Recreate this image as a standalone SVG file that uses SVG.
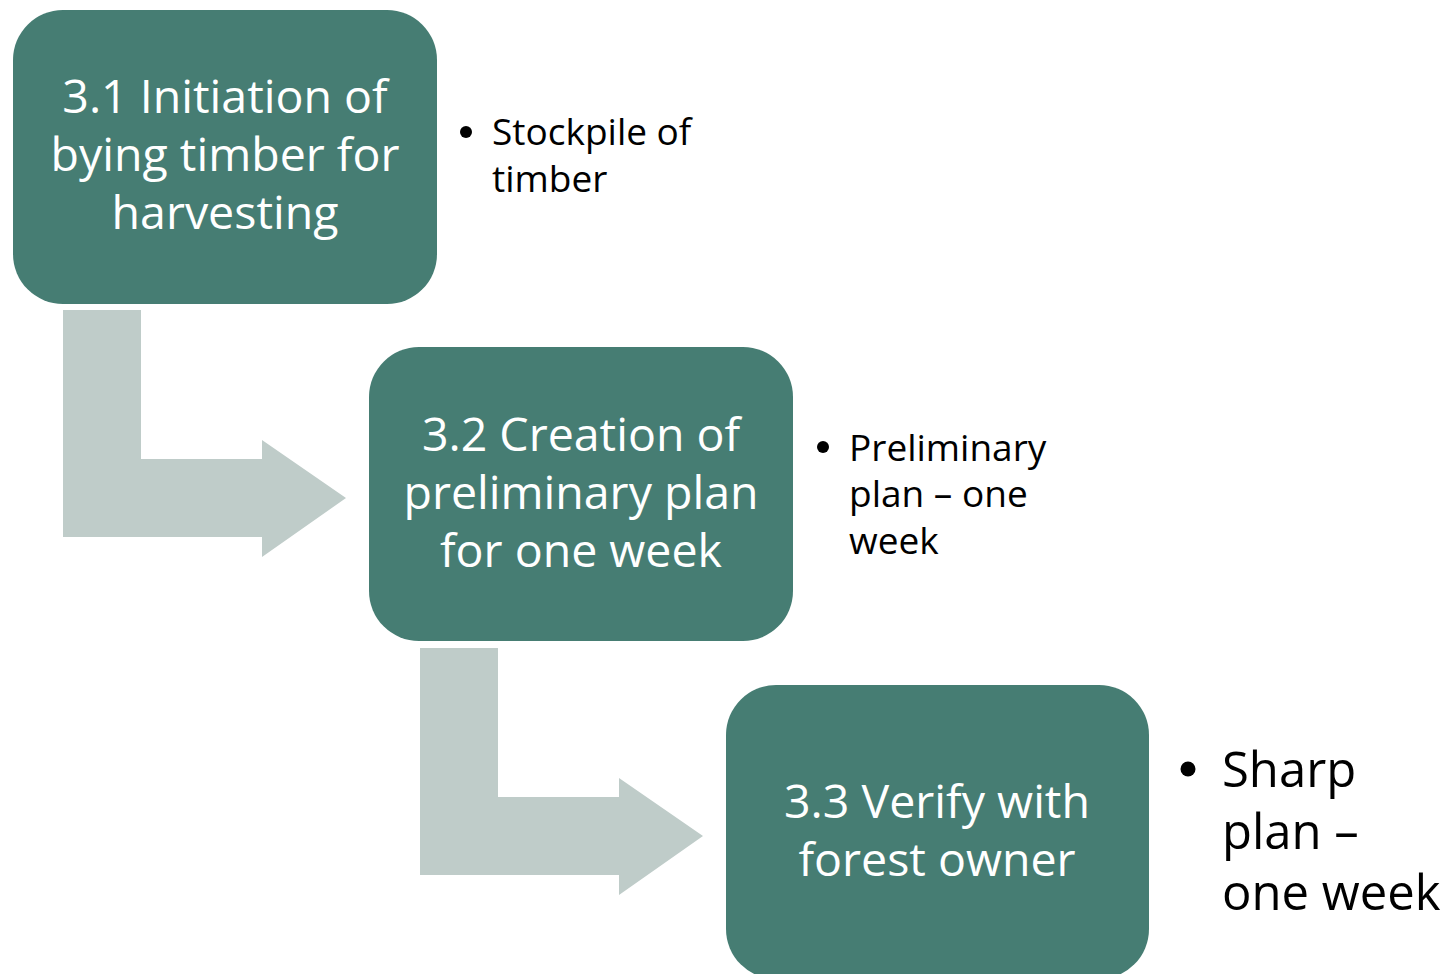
<svg xmlns="http://www.w3.org/2000/svg" width="1455" height="974" viewBox="0 0 1455 974">
<style>
.box{fill:#467D73}
.arrow{fill:#BFCCC9}
.bt{font-family:"Open Sans","Noto Sans",sans-serif;font-size:46.5px;fill:#FFFFFF;text-anchor:middle}
.st{font-family:"Open Sans","Noto Sans",sans-serif;font-size:37px;fill:#000000}
.lt{font-family:"Open Sans","Noto Sans",sans-serif;font-size:49px;fill:#000000}
</style>
<rect width="1455" height="974" fill="#FFFFFF"/>
<g id="connectors">
<path class="arrow" d="M63,310 H141 V459 H262 V440 L346,498 L262,557 V537 H63 Z"/>
<path class="arrow" d="M420,648 H498 V797 H619 V778 L703,836 L619,895 V875 H420 Z"/>
</g>
<g id="node1">
<rect class="box" x="13" y="10" width="424" height="294" rx="50"/>
<text class="bt" x="225" y="113">3.1 Initiation of</text>
<text class="bt" x="225" y="171">bying timber for</text>
<text class="bt" x="225" y="229">harvesting</text>
</g>
<g id="node2">
<rect class="box" x="369" y="347" width="424" height="294" rx="50"/>
<text class="bt" x="581" y="451">3.2 Creation of</text>
<text class="bt" x="581" y="509">preliminary plan</text>
<text class="bt" x="581" y="567">for one week</text>
</g>
<g id="node3">
<rect class="box" x="726" y="685" width="423" height="294" rx="50"/>
<text class="bt" x="937" y="818">3.3 Verify with</text>
<text class="bt" x="937" y="876">forest owner</text>
</g>
<g id="note1">
<circle cx="466" cy="132" r="6"/>
<text class="st" x="492" y="145">Stockpile of</text>
<text class="st" x="492" y="192">timber</text>
</g>
<g id="note2">
<circle cx="823" cy="447" r="6"/>
<text class="st" x="849" y="461">Preliminary</text>
<text class="st" x="849" y="507">plan – one</text>
<text class="st" x="849" y="554">week</text>
</g>
<g id="note3">
<circle cx="1188" cy="769" r="7.5"/>
<text class="lt" x="1222" y="787">Sharp</text>
<text class="lt" x="1222" y="849">plan –</text>
<text class="lt" x="1222" y="910">one week</text>
</g>
</svg>
